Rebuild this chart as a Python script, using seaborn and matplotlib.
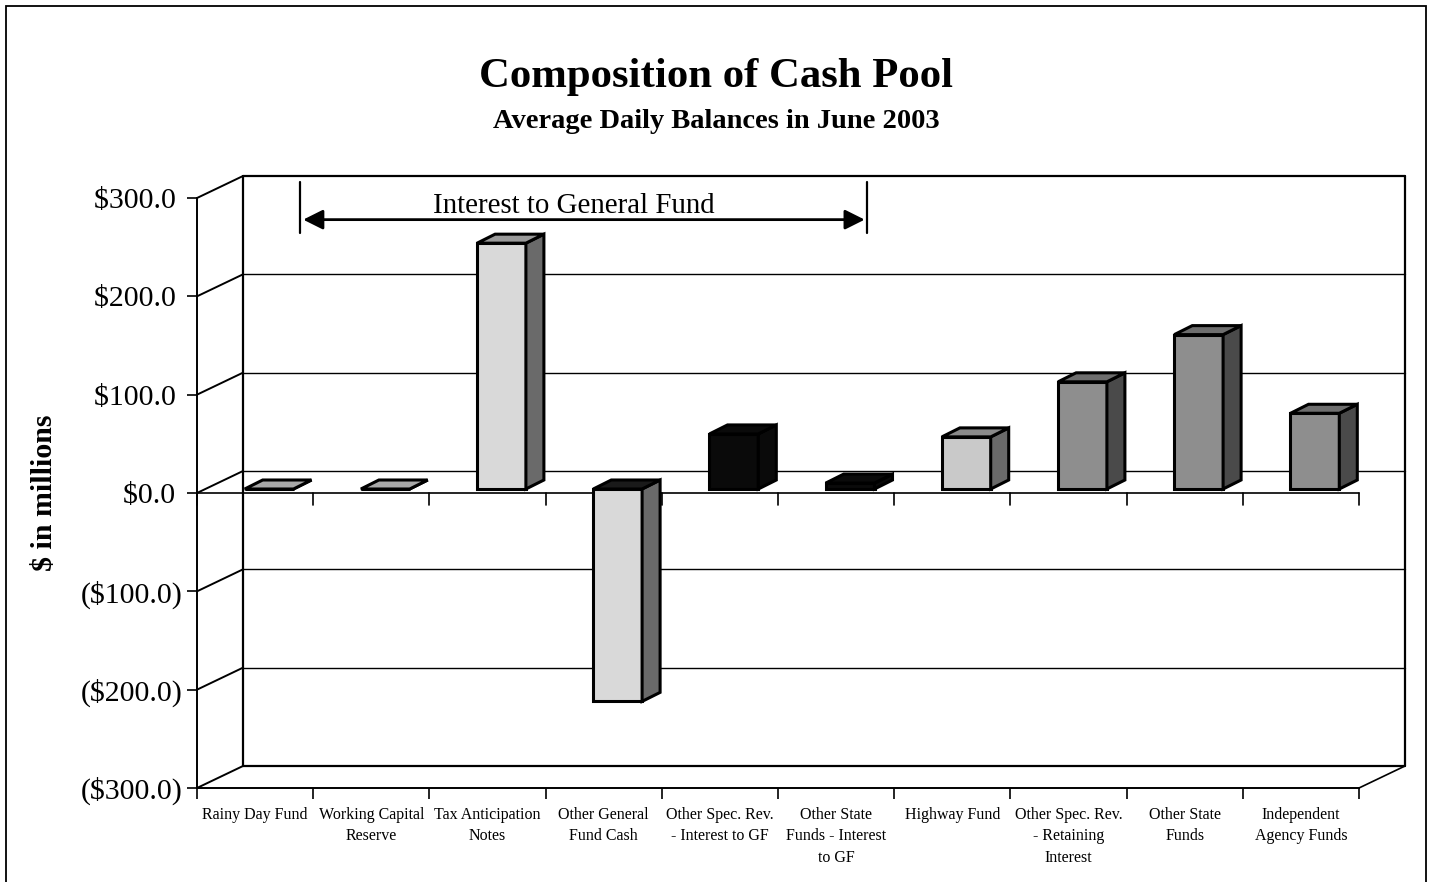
import matplotlib
matplotlib.use("Agg")
import matplotlib.pyplot as plt
import seaborn as sns
from matplotlib.patches import Polygon, Rectangle

# ================= DATOS =================
categorias = [
    "Rainy Day Fund",
    "Working Capital\nReserve",
    "Tax Anticipation\nNotes",
    "Other General\nFund Cash",
    "Other Spec. Rev.\n- Interest to GF",
    "Other State\nFunds - Interest\nto GF",
    "Highway Fund",
    "Other Spec. Rev.\n- Retaining\nInterest",
    "Other State\nFunds",
    "Independent\nAgency Funds",
]
saldos = [0.0, 0.0, 250.0, -216.0, 56.0, 6.0, 53.0, 109.0, 157.0, 77.0]
y_ticks = [-300, -200, -100, 0, 100, 200, 300]

# colores: frente / tapa / lateral
color_frente = ["#d6d6d6", "#d6d6d6", "#d9d9d9", "#d9d9d9", "#0a0a0a",
                "#0a0a0a", "#c9c9c9", "#8e8e8e", "#8e8e8e", "#8e8e8e"]
color_tapa = ["#a8a8a8", "#a8a8a8", "#9a9a9a", "#1a1a1a", "#0a0a0a",
              "#0a0a0a", "#8a8a8a", "#6e6e6e", "#6e6e6e", "#6e6e6e"]
color_lado = ["#7a7a7a", "#7a7a7a", "#6a6a6a", "#6a6a6a", "#0a0a0a",
              "#0a0a0a", "#6a6a6a", "#4a4a4a", "#4a4a4a", "#4a4a4a"]


def etiqueta_dinero(v):
    # formato contable: los positivos dejan el hueco del parentesis
    return f"${v:.1f} " if v >= 0 else f"(${-v:.1f})"


sns.set_style("white")
plt.rcParams["font.family"] = ["Liberation Serif", "DejaVu Serif"]
plt.rcParams["text.color"] = "black"
plt.rcParams["axes.labelcolor"] = "black"
plt.rcParams["xtick.color"] = "black"
plt.rcParams["ytick.color"] = "black"

fig = plt.figure(figsize=(14.32, 8.82), dpi=100)
ax = fig.add_axes([197 / 1432, 1 - 788 / 882, 1162 / 1432, 590 / 882])

sns.barplot(x=categorias, y=saldos, hue=categorias, palette=color_frente,
            legend=False, width=0.42, saturation=1, errorbar=None,
            edgecolor="black", linewidth=2.2, ax=ax, zorder=3)

ax.set_xlim(-0.5, 9.5)
ax.set_ylim(-300, 300)

# escala en pixeles para los efectos 3D
p0 = ax.transData.transform((0, 0))
p1 = ax.transData.transform((1, 1))
px_cat = p1[0] - p0[0]
px_val = p1[1] - p0[1]
wdx, wdy = 46 / px_cat, 22 / px_val       # profundidad del fondo
bdx, bdy = 18 / px_cat, 9 / px_val        # profundidad de la barra
sx, sy = 14 / px_cat, 4 / px_val          # desplazamiento de la barra

# pared del fondo y pared izquierda
for v in y_ticks:
    lw = 1.6 if v in (300, -300) else 1.0
    ax.plot([-0.5 + wdx, 9.5 + wdx], [v + wdy, v + wdy], color="black",
            lw=lw, clip_on=False, zorder=1)
    ax.plot([-0.5, -0.5 + wdx], [v, v + wdy], color="black", lw=1.4,
            clip_on=False, zorder=1)
for xe in (-0.5 + wdx, 9.5 + wdx):
    ax.plot([xe, xe], [-300 + wdy, 300 + wdy], color="black", lw=1.6,
            clip_on=False, zorder=1)
ax.plot([9.5, 9.5 + wdx], [-300, -300 + wdy], color="black", lw=1.2,
        clip_on=False, zorder=1)

# linea del cero al frente, con marcas
ax.plot([-0.5, 9.5], [0, 0], color="black", lw=1.2, clip_on=False, zorder=2)
for xb in range(11):
    ax.plot([xb - 0.5, xb - 0.5], [0, -12 / px_val], color="black", lw=1.2,
            clip_on=False, zorder=2)

# barras con tapa y lateral
barras = sorted(ax.patches, key=lambda p: p.get_x())
for i, p in enumerate(barras):
    p.set_x(p.get_x() + sx)
    p.set_y(p.get_y() + sy)
    x0 = p.get_x()
    x1 = x0 + p.get_width()
    ylo = min(p.get_y(), p.get_y() + p.get_height())
    yhi = max(p.get_y(), p.get_y() + p.get_height())
    tapa = Polygon([(x0, yhi), (x1, yhi), (x1 + bdx, yhi + bdy), (x0 + bdx, yhi + bdy)],
                   closed=True, facecolor=color_tapa[i], edgecolor="black",
                   lw=2.2, zorder=3, clip_on=False)
    lado = Polygon([(x1, ylo), (x1 + bdx, ylo + bdy), (x1 + bdx, yhi + bdy), (x1, yhi)],
                   closed=True, facecolor=color_lado[i], edgecolor="black",
                   lw=2.2, zorder=3, clip_on=False)
    ax.add_patch(lado)
    ax.add_patch(tapa)

# ejes
for s in ("top", "right"):
    ax.spines[s].set_visible(False)
for s in ("left", "bottom"):
    ax.spines[s].set_linewidth(1.4)
    ax.spines[s].set_color("black")
ax.set_yticks(y_ticks)
ax.set_yticklabels([etiqueta_dinero(v) for v in y_ticks], fontsize=21.5)
ax.tick_params(axis="y", length=7, width=1.2, direction="out", pad=3, left=True)
ax.set_xticks([b - 0.5 for b in range(11)])
ax.set_xticklabels([])
ax.tick_params(axis="x", which="major", length=8, width=1.2, direction="out", bottom=True)
ax.set_xticks(range(10), minor=True)
ax.set_xticklabels(categorias, minor=True, fontsize=11.5, linespacing=1.42)
ax.tick_params(axis="x", which="minor", length=0, pad=14)
ax.set_xlabel("")
ax.set_ylabel("$ in millions", fontsize=21.5, fontweight="bold")
ax.yaxis.set_label_coords(-0.12, 0.5)

# anotacion
ax.annotate("", xy=(0.39, 278), xytext=(5.27, 278),
            arrowprops=dict(arrowstyle="<|-|>", color="black", lw=2,
                            mutation_scale=30), annotation_clip=False)
for xa in (0.39, 5.27):
    ax.plot([xa, xa], [264, 316], color="black", lw=1.6, clip_on=False)
ax.text(2.74, 292, "Interest to General Fund", fontsize=20.8, ha="center", va="center")

# titulos y borde
fig.text(0.5, 1 - 77 / 882, "Composition of Cash Pool", fontsize=30.8,
         fontweight="bold", ha="center", va="center")
fig.text(0.5, 1 - 121 / 882, "Average Daily Balances in June 2003", fontsize=20.5,
         fontweight="bold", ha="center", va="center")
fig.add_artist(Rectangle((6 / 1432, -0.05), 1420 / 1432, 1.05 - 6 / 882,
                         transform=fig.transFigure, fill=False,
                         edgecolor="black", lw=1.3))

fig.savefig("out.png", dpi=100)
